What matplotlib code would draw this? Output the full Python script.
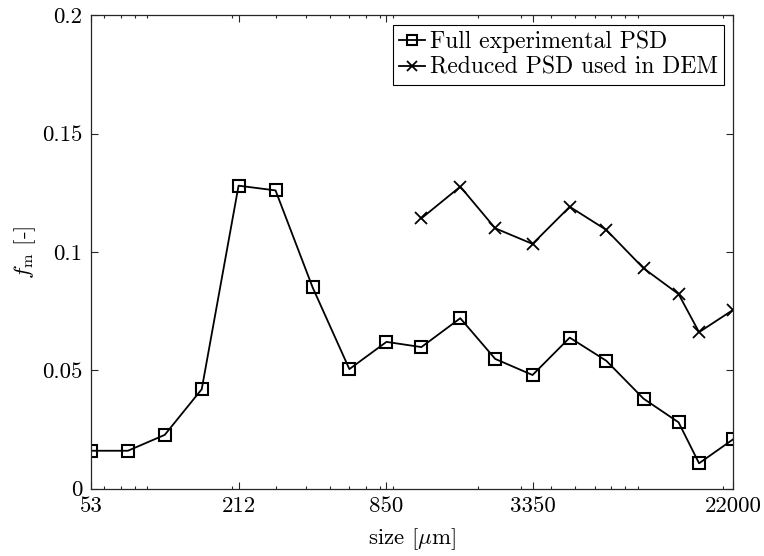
import matplotlib
matplotlib.use("Agg")
import matplotlib.pyplot as plt
from matplotlib.ticker import LogLocator, NullFormatter

plt.rcParams['font.family'] = 'serif'
plt.rcParams['font.serif'] = ['cmr10']
plt.rcParams['mathtext.fontset'] = 'cm'
plt.rcParams['axes.unicode_minus'] = False

# sieve sizes in micrometre
sizes = [53, 75, 106, 150, 212, 300, 425, 600, 850, 1180, 1700, 2360,
         3350, 4750, 6700, 9500, 13200, 16000, 22000]
full_psd = [0.016, 0.016, 0.0227, 0.042, 0.128, 0.126, 0.085, 0.0505,
            0.062, 0.0598, 0.072, 0.0548, 0.048, 0.0638, 0.054, 0.038,
            0.028, 0.0107, 0.0208]
reduced_sizes = sizes[9:]
reduced_psd = [0.1142, 0.1276, 0.110, 0.1034, 0.1191, 0.1093, 0.0931,
               0.0822, 0.0661, 0.0755]

xticks = [53, 212, 850, 3350, 22000]
yticks = [0, 0.05, 0.1, 0.15, 0.2]

fig = plt.figure(figsize=(7.64, 5.56), dpi=100)
ax = fig.add_axes([0.119, 0.1212, 0.8404, 0.8513])

ax.plot(sizes, full_psd, color='k', lw=1.3, marker='s', ms=8.5,
        mfc='none', mew=1.5, label='Full experimental PSD')
ax.plot(reduced_sizes, reduced_psd, color='k', lw=1.3, marker='x', ms=9,
        mew=1.3, label='Reduced PSD used in DEM')

ax.set_xscale('log')
ax.set_xlim(53, 22000)
ax.set_ylim(0, 0.2)
ax.set_xticks(xticks)
ax.set_xticklabels([str(t) for t in xticks])
ax.xaxis.set_minor_locator(LogLocator(base=10, subs=range(2, 10)))
ax.xaxis.set_minor_formatter(NullFormatter())
ax.set_yticks(yticks)
ax.set_yticklabels(['0', '0.05', '0.1', '0.15', '0.2'])

ax.tick_params(which='both', direction='in', top=True, right=True,
               labelsize=16.5, color='#262626')
ax.tick_params(which='major', length=4.8, width=0.8, pad=6)
ax.tick_params(which='minor', length=2.4, width=0.8)
for s in ax.spines.values():
    s.set_color('#262626')
    s.set_linewidth(0.9)

ax.set_xlabel(r'size [$\mu$m]', fontsize=16.5, labelpad=7)
ax.set_ylabel(r'$f_{\mathrm{m}}$ [-]', fontsize=16.5, labelpad=3)

leg = ax.legend(loc='upper right', fontsize=17, handlelength=1.1,
                handletextpad=0.2, borderpad=0.25, labelspacing=0.15,
                borderaxespad=0.4, fancybox=False, framealpha=1,
                edgecolor='k')
leg.get_frame().set_linewidth(0.8)
for h in leg.legend_handles:
    h.set_markersize(7)

fig.savefig('out.png', dpi=100)
